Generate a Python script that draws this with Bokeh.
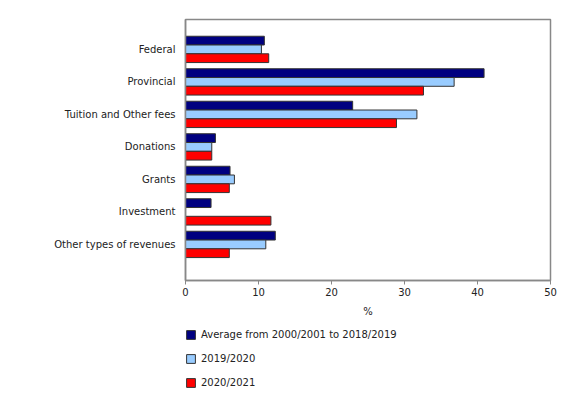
from bokeh.plotting import figure
from bokeh.layouts import column
from bokeh.models import ColumnDataSource, Range1d, FixedTicker, Legend, LegendItem
from bokeh.transform import dodge
from bokeh.embed import file_html
from bokeh.resources import INLINE

categories = ["Federal", "Provincial", "Tuition and Other fees", "Donations",
              "Grants", "Investment", "Other types of revenues"]
avg_2000_2019 = [10.8, 40.9, 22.9, 4.1, 6.1, 3.5, 12.3]
y2019_2020 = [10.4, 36.8, 31.7, 3.6, 6.7, 0.0, 11.0]
y2020_2021 = [11.4, 32.6, 28.9, 3.6, 6.0, 11.7, 6.0]
series_labels = ["Average from 2000/2001 to 2018/2019", "2019/2020", "2020/2021"]
x_ticks = [0, 10, 20, 30, 40, 50]

colors = ["#000080", "#99CCFF", "#FF0000"]
FONT = "DejaVu Sans"

src = ColumnDataSource(dict(
    y=list(range(len(categories))),
    a=avg_2000_2019, b=y2019_2020, c=y2020_2021,
))

p = figure(width=572, height=320, output_backend="svg", toolbar_location=None,
           x_range=Range1d(0, 50), y_range=Range1d(7.11, -0.92),
           min_border_left=185, min_border_right=22, min_border_top=19,
           min_border_bottom=40)

bh = 0.27
cols = ["a", "b", "c"]
offs = [-bh, 0, bh]
for col, off, colr in zip(cols, offs, colors):
    p.hbar(y=dodge("y", off, range=p.y_range), right=col, height=bh, left=0, source=src,
           fill_color=colr, line_color="#333333", line_width=1)

p.grid.visible = False
p.outline_line_color = "#888888"
p.outline_line_width = 1.5
p.background_fill_color = "white"
p.border_fill_color = "white"

yax = p.yaxis[0]
yax.ticker = FixedTicker(ticks=list(range(len(categories))))
yax.major_label_overrides = {i: c for i, c in enumerate(categories)}
yax.major_tick_line_color = None
yax.major_tick_out = 0
yax.major_tick_in = 0
yax.minor_tick_line_color = None
yax.axis_line_color = "#888888"
yax.axis_line_width = 1.5
yax.major_label_standoff = 10
yax.major_label_text_font = FONT
yax.major_label_text_font_size = "10px"
yax.major_label_text_color = "#222222"

xax = p.xaxis[0]
xax.ticker = FixedTicker(ticks=x_ticks)
xax.minor_tick_line_color = None
xax.major_tick_in = 0
xax.major_tick_out = 4
xax.major_tick_line_color = "#888888"
xax.axis_line_color = "#888888"
xax.axis_line_width = 1.5
xax.major_label_standoff = 3
xax.major_label_text_font = FONT
xax.major_label_text_font_size = "10px"
xax.major_label_text_color = "#222222"
xax.axis_label = "%"
xax.axis_label_text_font = FONT
xax.axis_label_text_font_size = "10px"
xax.axis_label_text_font_style = "normal"
xax.axis_label_text_color = "#222222"
xax.axis_label_standoff = 7

# legend panel: same glyph styles, bars kept entirely outside the visible ranges
lg = figure(width=572, height=70, output_backend="svg", toolbar_location=None,
            x_range=Range1d(-200, -100), y_range=Range1d(100, 101),
            min_border_left=185, min_border_right=0, min_border_top=0,
            min_border_bottom=0, x_axis_location=None, y_axis_location=None)
lg.grid.visible = False
lg.outline_line_color = None
lg.border_fill_color = "white"
rs = []
for col, colr in zip(cols, colors):
    rs.append(lg.hbar(y="y", right=col, height=bh, left=0, source=src,
                      fill_color=colr, line_color="#333333", line_width=1))

legend = Legend(items=[LegendItem(label=lab, renderers=[r]) for lab, r in zip(series_labels, rs)],
                location=(0, 2), orientation="vertical",
                padding=0, margin=0, spacing=12,
                glyph_width=11, glyph_height=11, label_height=12,
                label_standoff=5,
                label_text_font=FONT, label_text_font_size="10px",
                label_text_color="#222222",
                border_line_color=None, background_fill_alpha=0)
lg.add_layout(legend, "center")

layout = column(p, lg, spacing=0)
open("out.html", "w").write(file_html(layout, INLINE))
